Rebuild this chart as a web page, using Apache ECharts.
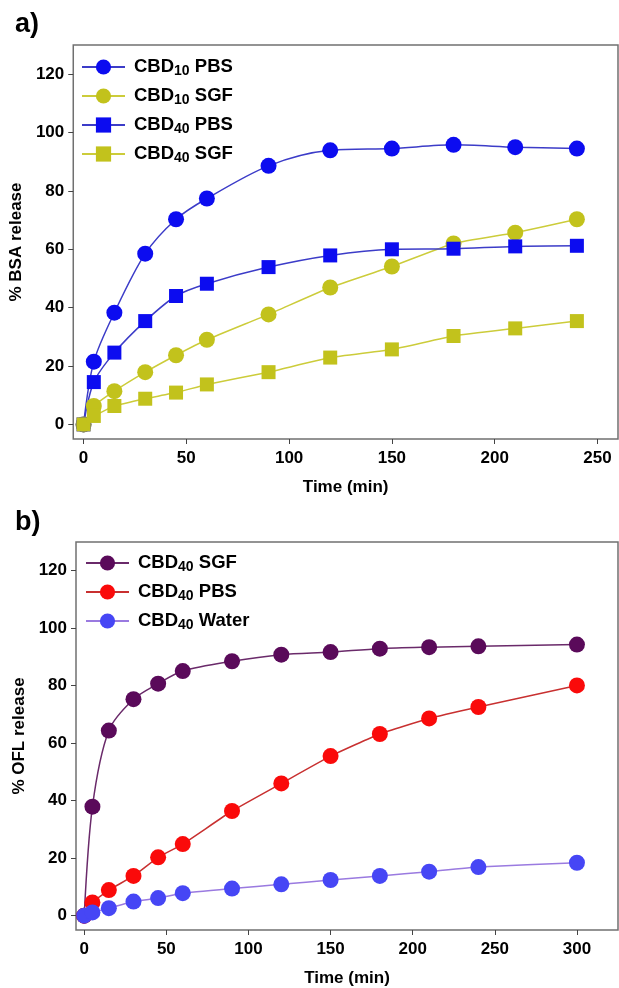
<!DOCTYPE html>
<html><head><meta charset="utf-8">
<script src="https://cdn.jsdelivr.net/npm/echarts@6/dist/echarts.min.js"></script>
<style>html,body{margin:0;padding:0;background:#fff}#c{width:619px;height:988px}</style>
</head><body><div id="c"></div>
<script>
// ---- data: panel a) BSA release ----
const timeA = [0, 5, 15, 30, 45, 60, 90, 120, 150, 180, 210, 240];
const cbd10PBS = [0, 21.5, 38.3, 58.5, 70.3, 77.4, 88.6, 93.9, 94.5, 95.8, 95.0, 94.5];
const cbd10SGF = [0, 6.3, 11.4, 17.9, 23.7, 29.0, 37.7, 46.9, 54.1, 62.0, 65.7, 70.3];
const cbd40PBS = [0, 14.5, 24.6, 35.4, 44.0, 48.2, 53.9, 57.9, 60.0, 60.2, 61.0, 61.2];
const cbd40SGF = [0, 2.9, 6.3, 8.8, 10.9, 13.7, 17.9, 22.9, 25.7, 30.3, 32.9, 35.4];
// ---- data: panel b) OFL release ----
const timeB = [0, 5, 15, 30, 45, 60, 90, 120, 150, 180, 210, 240, 300];
const oflSGF = [0, 37.9, 64.4, 75.3, 80.7, 85.1, 88.5, 90.8, 91.7, 92.9, 93.4, 93.7, 94.3];
const oflPBS = [0, 4.6, 8.9, 13.8, 20.3, 24.9, 36.4, 46.0, 55.5, 63.2, 68.6, 72.6, 80.1];
const oflWater = [0, 1.1, 2.6, 4.9, 6.1, 7.8, 9.4, 10.9, 12.4, 13.8, 15.3, 16.9, 18.4];
// ---- tick labels ----
const xTicksA = [0, 50, 100, 150, 200, 250];
const xTicksB = [0, 50, 100, 150, 200, 250, 300];
const yTicks = [0, 20, 40, 60, 80, 100, 120];

const FONT = 'Liberation Sans, Arial, sans-serif';
const zip = (xs, ys) => xs.map((x, i) => [x, ys[i]]);

const legendMap = {
  'CBD10 PBS': '{p|}{b|CBD}{s|10}{b| PBS}',
  'CBD10 SGF': '{p|}{b|CBD}{s|10}{b| SGF}',
  'CBD40 PBS': '{p|}{b|CBD}{s|40}{b| PBS}',
  'CBD40 SGF': '{p|}{b|CBD}{s|40}{b| SGF}',
  'CBD40 SGF ': '{p|}{b|CBD}{s|40}{b| SGF}',
  'CBD40 PBS ': '{p|}{b|CBD}{s|40}{b| PBS}',
  'CBD40 Water': '{p|}{b|CBD}{s|40}{b| Water}'
};
const richText = {
  p: {width: 4, height: 22, lineHeight: 22},
  b: {fontFamily: FONT, fontWeight: 'bold', fontSize: 18.5, color: '#000', verticalAlign: 'top', height: 22, lineHeight: 22},
  s: {fontFamily: FONT, fontWeight: 'bold', fontSize: 14, color: '#000', verticalAlign: 'bottom', padding: [8, 0, 0, 0], lineHeight: 14}
};

function xAxisCfg(grid, min, max, ticks) {
  return {
    type: 'value', gridIndex: grid, min: min, max: max,
    splitLine: {show: false},
    axisLine: {show: false, onZero: false},
    axisTick: {show: true, customValues: ticks, length: 5, lineStyle: {color: '#444', width: 1}},
    axisLabel: {customValues: ticks, fontFamily: FONT, fontWeight: 'bold', fontSize: 17, color: '#000', margin: 11},
    name: 'Time (min)', nameLocation: 'middle', nameGap: 40,
    nameTextStyle: {fontFamily: FONT, fontWeight: 'bold', fontSize: 17, color: '#000'}
  };
}
function yAxisCfg(grid, name, gap) {
  return {
    type: 'value', gridIndex: grid, min: -5, max: 130,
    splitLine: {show: false},
    axisLine: {show: false, onZero: false},
    axisTick: {show: true, customValues: yTicks, length: 5, lineStyle: {color: '#444', width: 1}},
    axisLabel: {customValues: yTicks, fontFamily: FONT, fontWeight: 'bold', fontSize: 17, color: '#000', margin: 9},
    name: name, nameLocation: 'middle', nameGap: gap, nameRotate: 90,
    nameTextStyle: {fontFamily: FONT, fontWeight: 'bold', fontSize: 17, color: '#000'}
  };
}
function line(name, xi, data, lineColor, markColor, symbol, size, smooth) {
  return {
    name: name, type: 'line', xAxisIndex: xi, yAxisIndex: xi, data: data,
    symbol: symbol, symbolSize: size, smooth: smooth,
    showAllSymbol: true,
    lineStyle: {color: lineColor, width: 1.5},
    itemStyle: {color: markColor, borderColor: markColor, borderWidth: 0},
    emphasis: {disabled: true}
  };
}

const chart = echarts.init(document.getElementById('c'), null, {renderer: 'canvas'});
chart.setOption({
  animation: false,
  backgroundColor: '#fff',
  title: [
    {text: 'a)', left: 10, top: 6, textStyle: {fontFamily: FONT, fontWeight: 'bold', fontSize: 27, color: '#000'}},
    {text: 'b)', left: 10, top: 504, textStyle: {fontFamily: FONT, fontWeight: 'bold', fontSize: 27, color: '#000'}}
  ],
  grid: [
    {left: 73, top: 45, width: 545, height: 394, show: true, borderColor: '#707070', borderWidth: 1.5, backgroundColor: 'transparent'},
    {left: 76, top: 542, width: 542, height: 390, show: true, borderColor: '#707070', borderWidth: 1.5, backgroundColor: 'transparent'}
  ],
  legend: [
    {data: ['CBD10 PBS', 'CBD10 SGF', 'CBD40 PBS', 'CBD40 SGF'], orient: 'vertical', left: 76, top: 51,
     itemWidth: 43, itemHeight: 19, itemGap: 7, formatter: n => legendMap[n],
     textStyle: {rich: richText}},
    {data: ['CBD40 SGF ', 'CBD40 PBS ', 'CBD40 Water'], orient: 'vertical', left: 80, top: 547,
     itemWidth: 43, itemHeight: 19, itemGap: 7, formatter: n => legendMap[n],
     textStyle: {rich: richText}}
  ],
  xAxis: [xAxisCfg(0, -5, 260, xTicksA), xAxisCfg(1, -5, 325, xTicksB)],
  yAxis: [yAxisCfg(0, '% BSA release', 43), yAxisCfg(1, '% OFL release', 46)],
  series: [
    line('CBD10 PBS', 0, zip(timeA, cbd10PBS), '#3c3cc8', '#0c0cf0', 'circle', 16, 0.3),
    line('CBD10 SGF', 0, zip(timeA, cbd10SGF), '#cccc3a', '#c2c21c', 'circle', 16, 0.15),
    line('CBD40 PBS', 0, zip(timeA, cbd40PBS), '#3c3cc8', '#0c0cf0', 'rect', 14, 0.3),
    line('CBD40 SGF', 0, zip(timeA, cbd40SGF), '#cccc3a', '#c2c21c', 'rect', 14, 0.1),
    line('CBD40 SGF ', 1, zip(timeB, oflSGF), '#6a2a6a', '#5a0a5a', 'circle', 16, 0.3),
    line('CBD40 PBS ', 1, zip(timeB, oflPBS), '#c83030', '#fa0a0a', 'circle', 16, 0.15),
    line('CBD40 Water', 1, zip(timeB, oflWater), '#9a7ae0', '#4646f5', 'circle', 16, 0.1)
  ]
});
</script></body></html>
